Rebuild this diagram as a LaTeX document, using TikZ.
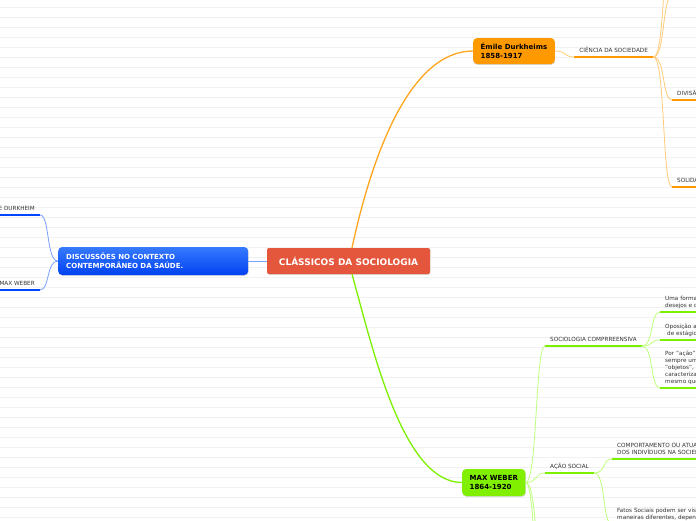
\documentclass[tikz,border=0pt]{standalone}
\usepackage{fontspec}
\setmainfont{DejaVu Sans}
\usetikzlibrary{shadows}
\definecolor{rootred}{RGB}{229,87,61}
\definecolor{durkor}{RGB}{255,153,0}
\definecolor{ormainc}{RGB}{255,165,30}
\definecolor{orthinc}{RGB}{255,203,120}
\definecolor{webgr}{RGB}{128,240,0}
\definecolor{grmainc}{RGB}{125,240,0}
\definecolor{grthinc}{RGB}{190,255,125}
\definecolor{bluetop}{RGB}{55,122,255}
\definecolor{bluebot}{RGB}{0,66,240}
\definecolor{blbarc}{RGB}{0,70,255}
\definecolor{blthinc}{RGB}{120,160,255}
\definecolor{labelc}{RGB}{51,51,51}
\definecolor{rulec}{RGB}{241,241,241}

\begin{document}
\begin{tikzpicture}[x=1pt, y=-1pt, font=\fontsize{5.7}{7}\selectfont,
  box/.style={rounded corners=4pt, inner xsep=7.5pt, inner ysep=0pt, align=left,
    font=\bfseries\fontsize{7}{9}\selectfont,
    drop shadow={shadow xshift=0.4pt, shadow yshift=-0.8pt, opacity=0.3}},
  tag/.style={inner xsep=5pt, inner ysep=1.8pt, text=labelc, execute at end node=\strut},
  note/.style={tag, anchor=south west, text width=130pt, align=left},
  fork/.style={to path={.. controls +(12,0) and +(-10,0) .. (\tikztotarget)}},
  forkl/.style={to path={.. controls +(-12,0) and +(10,0) .. (\tikztotarget)}},
  orbar/.style={durkor, line width=2.6pt},
  grbar/.style={grmainc, line width=2.6pt},
  blbar/.style={blbarc, line width=2.6pt},
  ormain/.style={ormainc, line width=1.3pt},
  grmain/.style={grmainc, line width=1.3pt},
  orthin/.style={orthinc, line width=0.8pt},
  grthin/.style={grthinc, line width=0.8pt},
  blthin/.style={blthinc, line width=0.8pt}]

\useasboundingbox (0,0) rectangle (696,520);
\clip (0,0) rectangle (696,520);
\fill[white] (0,0) rectangle (696,520);

%% ── ruled paper ──────────────────────────────────────────────────
\foreach \yy in {7.3,17.3,...,517.3}{
  \draw[rulec, line width=0.6pt] (0,\yy) -- (696,\yy);
}

%% ── main topics ──────────────────────────────────────────────────
\node[box, fill=rootred, text=white, rounded corners=2pt, align=center,
      minimum width=163pt, minimum height=26pt,
      font=\bfseries\fontsize{9}{11}\selectfont] (root) at (348.5,261) {CLÁSSICOS DA SOCIOLOGIA};
\node[box, top color=bluetop, bottom color=bluebot, text=white, anchor=west,
      text width=174pt, inner xsep=8pt, minimum height=28pt,
      font=\bfseries\fontsize{7}{8.5}\selectfont] (saude) at (58,261)
  {DISCUSSÕES NO CONTEXTO\\CONTEMPORÂNEO DA SAÚDE.};
\node[box, fill=durkor, minimum height=26pt, anchor=west] (durk) at (473,51) {Émile Durkheims\\1858-1917};
\node[box, fill=webgr, minimum height=27pt, anchor=west] (weber) at (462,482.5) {MAX WEBER\\1864-1920};

%% ── Durkheim branch ──────────────────────────────────────────────
\node[tag, anchor=south west, minimum width=79pt] (cien) at (574,57) {CIÊNCIA DA SOCIEDADE};
\node[tag, anchor=south west] (divi) at (672,100) {DIVISÃO DO TRABALHO};
\node[tag, anchor=south west] (soli) at (672,187) {SOLIDARIEDADE};
\coordinate (ciA) at (672,-4);
\coordinate (ciB) at (672,-60);

%% ── Weber branch ─────────────────────────────────────────────────
\node[tag, anchor=south west, minimum width=96pt] (soc) at (545,346) {SOCIOLOGIA COMPRREENSIVA};
\node[tag, anchor=south west, minimum width=48pt] (acao) at (545,473) {AÇÃO SOCIAL};
\coordinate (weA) at (545,580);
\coordinate (weB) at (545,680);
\node[note] (uma) at (660,312) {Uma forma de\\desejos e os};
\node[note] (opo) at (660,340) {Oposição ao\\\hspace{2pt}de estágios};
\node[note] (por) at (660,388) {Por "ação" entende\\sempre um\\"objetos", isto\\caracterizada\\mesmo que};
\node[note] (comp) at (612,459) {COMPORTAMENTO OU ATUAÇÃO\\DOS INDIVÍDUOS NA SOCIEDADE};
\node[note] (fato) at (612,524) {Fatos Sociais podem ser vistos\\maneiras diferentes, dependendo};

%% ── health branch ────────────────────────────────────────────────
\node[tag, anchor=south east] (bdur) at (40,215) {E DURKHEIM};
\node[tag, anchor=south east] (bweb) at (40,290) {MAX WEBER};

%% ── underlines ───────────────────────────────────────────────────
\foreach \n in {cien,divi,soli}{
  \draw[orbar] (\n.south west) -- (\n.south east);
}
\foreach \n in {soc,acao,uma,opo,por,comp,fato}{
  \draw[grbar] (\n.south west) -- (\n.south east);
}
\foreach \n in {bdur,bweb}{
  \draw[blbar] (\n.south west) -- (\n.south east);
}

%% ── connectors ───────────────────────────────────────────────────
\draw[ormain] ([xshift=3.5pt]root.north) .. controls +(20,-93) and +(-63,0) .. (durk.west);
\draw[grmain] ([xshift=3.5pt]root.south) .. controls +(20,71) and +(-60,0) .. (weber.west);
\draw[blthin] (root.west) -- (saude.east);

\draw[orthin] (durk.east) to[fork] (cien.south west);
\foreach \t in {ciA,ciB,divi.south west,soli.south west}{
  \draw[orthin] (cien.south east) to[fork] (\t);
}
\foreach \t in {soc.south west,acao.south west,weA,weB}{
  \draw[grthin] (weber.east) to[fork] (\t);
}
\foreach \t in {uma,opo,por}{
  \draw[grthin] (soc.south east) to[fork] (\t.south west);
}
\foreach \t in {comp,fato}{
  \draw[grthin] (acao.south east) to[fork] (\t.south west);
}
\foreach \t in {bdur,bweb}{
  \draw[blthin] (saude.west) to[forkl] (\t.south east);
}

\end{tikzpicture}
\end{document}
